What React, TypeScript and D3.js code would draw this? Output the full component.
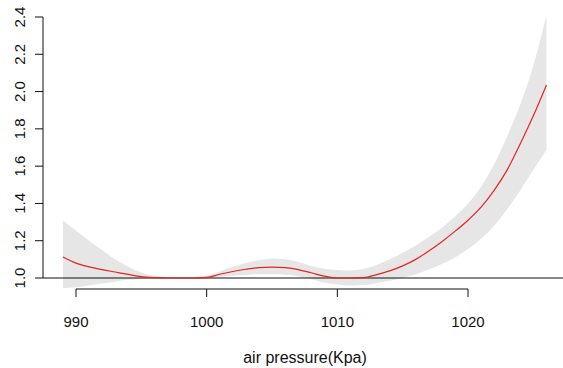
import React from "react";
import * as d3 from "d3";

const pressure = [989, 990, 991, 992, 993, 994, 995, 996, 997, 998, 999, 1000, 1001, 1002, 1003, 1004, 1005, 1006, 1007, 1008, 1009, 1010, 1011, 1012, 1013, 1014, 1015, 1016, 1017, 1018, 1019, 1020, 1021, 1022, 1023, 1024, 1025, 1026];
const fitValues = [1.113, 1.08, 1.06, 1.045, 1.032, 1.019, 1.007, 1.002, 1.0, 1.0, 1.0, 1.003, 1.02, 1.035, 1.047, 1.056, 1.058, 1.056, 1.045, 1.028, 1.01, 1.0, 1.0, 1.002, 1.018, 1.038, 1.065, 1.1, 1.145, 1.195, 1.25, 1.31, 1.38, 1.47, 1.58, 1.72, 1.87, 2.035];
const upperValues = [1.31, 1.255, 1.2, 1.15, 1.1, 1.06, 1.03, 1.012, 1.005, 1.004, 1.006, 1.012, 1.035, 1.06, 1.08, 1.095, 1.105, 1.1, 1.087, 1.065, 1.05, 1.043, 1.04, 1.048, 1.07, 1.1, 1.135, 1.175, 1.22, 1.27, 1.33, 1.4, 1.49, 1.61, 1.76, 1.93, 2.14, 2.41];
const lowerValues = [0.945, 0.95, 0.96, 0.97, 0.98, 0.99, 0.995, 0.998, 0.998, 0.997, 0.996, 0.996, 1.005, 1.012, 1.016, 1.02, 1.02, 1.018, 1.01, 0.995, 0.975, 0.965, 0.96, 0.962, 0.972, 0.985, 1.0, 1.02, 1.045, 1.075, 1.11, 1.155, 1.21, 1.28, 1.37, 1.47, 1.58, 1.687];

const xTicks = [990, 1000, 1010, 1020];
const yTicks = [1.0, 1.2, 1.4, 1.6, 1.8, 2.0, 2.2, 2.4];
const xTitle = "air pressure(Kpa)";

const W = 563;
const H = 368;

export default function App() {
  const x = d3.scaleLinear().domain([990, 1020]).range([76, 468]);
  const y = d3.scaleLinear().domain([1.0, 2.4]).range([278, 17]);
  const idx = pressure.map((_, i) => i);

  const band = d3
    .area<number>()
    .x((i) => x(pressure[i]))
    .y0((i) => y(lowerValues[i]))
    .y1((i) => y(upperValues[i]))
    .curve(d3.curveMonotoneX)(idx) as string;

  const line = d3
    .line<number>()
    .x((i) => x(pressure[i]))
    .y((i) => y(fitValues[i]))
    .curve(d3.curveMonotoneX)(idx) as string;

  const axisY = 289;
  const font = "Liberation Sans, Arial, sans-serif";

  return (
    <svg
      width={W}
      height={H}
      style={{ position: "absolute", left: 0, top: 0, background: "#fff" }}
      fontFamily={font}
    >
      <path d={band} fill="#e6e6e6" stroke="none" />
      <line x1={43} x2={W} y1={y(1.0)} y2={y(1.0)} stroke="#111" strokeWidth={1} />
      <path d={line} fill="none" stroke="#e8231f" strokeWidth={1.2} />

      {/* y axis */}
      <line x1={43} x2={43} y1={y(1.0)} y2={y(2.4)} stroke="#111" />
      {yTicks.map((t) => (
        <g key={t}>
          <line x1={35} x2={43} y1={y(t)} y2={y(t)} stroke="#111" />
          <text
            transform={`translate(25,${y(t)}) rotate(-90)`}
            textAnchor="middle"
            fontSize={15}
            fill="#111"
          >
            {t.toFixed(1)}
          </text>
        </g>
      ))}

      {/* x axis */}
      <line x1={x(990)} x2={x(1020)} y1={axisY} y2={axisY} stroke="#111" />
      {xTicks.map((t) => (
        <g key={t}>
          <line x1={x(t)} x2={x(t)} y1={axisY} y2={axisY + 8} stroke="#111" />
          <text x={x(t)} y={327} textAnchor="middle" fontSize={15} fill="#111">
            {t}
          </text>
        </g>
      ))}
      <text x={305} y={363} textAnchor="middle" fontSize={16} fill="#111">
        {xTitle}
      </text>
    </svg>
  );
}
